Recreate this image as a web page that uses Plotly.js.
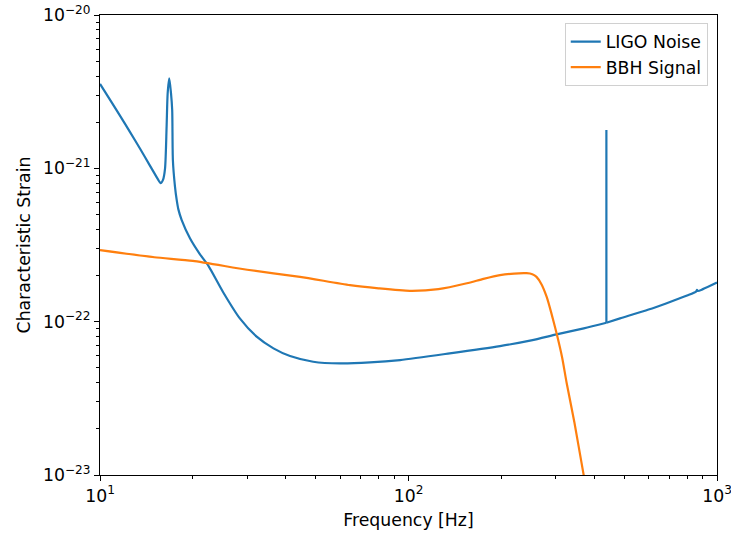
<!DOCTYPE html>
<html>
<head>
<meta charset="utf-8">
<script src="https://cdn.plot.ly/plotly-3.0.1.min.js"></script>
<style>html,body{margin:0;padding:0;background:#fff;}#chart{width:731px;height:533px;}</style>
</head>
<body>
<div id="chart"></div>
<script>
// LIGO noise curve (frequency in Hz, characteristic strain)
const noiseFreq = [10, 11, 12, 13, 14, 15, 15.4, 15.72, 16.0, 16.25, 16.44, 16.57, 16.77, 16.99, 17.14, 17.23, 17.5, 17.73, 17.95, 18.4, 19.57, 21.09, 22.44, 25.1, 28.4, 32.2, 36.5, 41.3, 49.1, 60, 75, 93.9, 136, 198, 250, 302, 370, 438, 438, 438, 485, 600, 687, 800, 855, 861, 867, 900, 1000];
const noiseStrain = [3.55e-21, 2.62e-21, 1.98e-21, 1.52e-21, 1.18e-21, 9.3e-22, 8.5e-22, 8.0e-22, 8.4e-22, 1.0e-21, 1.87e-21, 3.08e-21, 3.86e-21, 3.08e-21, 2.4e-21, 1.13e-21, 7.6e-22, 6.2e-22, 5.4e-22, 4.6e-22, 3.5e-22, 2.75e-22, 2.32e-22, 1.55e-22, 1.05e-22, 7.98e-23, 6.7e-23, 5.97e-23, 5.48e-23, 5.34e-23, 5.42e-23, 5.62e-23, 6.21e-23, 6.93e-23, 7.55e-23, 8.26e-23, 9.05e-23, 9.84e-23, 1.78e-21, 9.84e-23, 1.05e-22, 1.2e-22, 1.32e-22, 1.48e-22, 1.57e-22, 1.61e-22, 1.585e-22, 1.63e-22, 1.8e-22];

// BBH signal curve
const signalFreq = [10, 15, 20, 30, 44.5, 64.6, 80, 101, 125, 154.6, 175, 198, 220, 241.5, 252, 260, 270, 280.5, 290, 302, 315, 325.6, 345, 369, 380];
const signalStrain = [2.93e-22, 2.63e-22, 2.49e-22, 2.18e-22, 1.96e-22, 1.73e-22, 1.65e-22, 1.59e-22, 1.63e-22, 1.78e-22, 1.9e-22, 2.01e-22, 2.06e-22, 2.07e-22, 2.04e-22, 1.96e-22, 1.75e-22, 1.45e-22, 1.15e-22, 8.4e-23, 5.8e-23, 3.98e-23, 2.2e-23, 1.02e-23, 7.5e-24];

// tick labels
const xTickVals = [10, 100, 1000];
const xTickText = ['10<sup>1</sup>', '10<sup>2</sup>', '10<sup>3</sup>'];
const yTickVals = [1e-23, 1e-22, 1e-21, 1e-20];
const yTickText = ['10<sup>\u221223</sup>', '10<sup>\u221222</sup>', '10<sup>\u221221</sup>', '10<sup>\u221220</sup>'];
const xMinor = [20,30,40,50,60,70,80,90,200,300,400,500,600,700,800,900];
const yMinor = [];
for (const e of [-23, -22, -21]) for (let m = 2; m <= 9; m++) yMinor.push(m * Math.pow(10, e));

const font = {family: 'DejaVu Sans, sans-serif', size: 17.3, color: '#000'};

// split the noise series at the narrow line at 438 Hz so the smooth parts can be splined
const spikeStart = noiseFreq.indexOf(438);
const spikeEnd = noiseFreq.lastIndexOf(438);
const blue = {color: '#1f77b4', width: 2.2};
const traces = [
  {x: noiseFreq.slice(0, spikeStart + 1), y: noiseStrain.slice(0, spikeStart + 1), type: 'scatter', mode: 'lines',
   name: 'LIGO Noise', legendgroup: 'n', line: Object.assign({shape: 'spline', smoothing: 0.7}, blue)},
  {x: noiseFreq.slice(spikeStart, spikeEnd + 1), y: noiseStrain.slice(spikeStart, spikeEnd + 1), type: 'scatter', mode: 'lines',
   name: 'LIGO Noise', legendgroup: 'n', showlegend: false, line: blue},
  {x: noiseFreq.slice(spikeEnd), y: noiseStrain.slice(spikeEnd), type: 'scatter', mode: 'lines',
   name: 'LIGO Noise', legendgroup: 'n', showlegend: false, line: Object.assign({shape: 'spline', smoothing: 0.7}, blue)},
  {x: signalFreq, y: signalStrain, type: 'scatter', mode: 'lines', name: 'BBH Signal',
   line: {color: '#ff7f0e', width: 2.2, shape: 'spline', smoothing: 0.6}}
];

const axisCommon = {
  showgrid: false, zeroline: false, showline: true, linecolor: '#000', linewidth: 1,
  mirror: true, ticks: 'outside', ticklen: 5, tickwidth: 1, tickcolor: '#000',
  tickfont: font, ticklabeloverflow: 'allow'
};

const layout = {
  width: 731, height: 533,
  margin: {l: 100, r: 14, t: 15, b: 58},
  paper_bgcolor: '#fff', plot_bgcolor: '#fff',
  font: font,
  showlegend: true,
  legend: {x: 0.985, y: 0.983, xanchor: 'right', yanchor: 'top', bgcolor: 'rgba(255,255,255,0.8)',
           bordercolor: '#d0d0d0', borderwidth: 1, tracegroupgap: 0,
           font: {family: 'DejaVu Sans, sans-serif', size: 17.3, color: '#000'}},
  xaxis: Object.assign({}, axisCommon, {
    type: 'log', range: [1, 3], tickvals: xTickVals, ticktext: xTickText,
    minor: {tickvals: xMinor, ticks: 'outside', ticklen: 3, tickcolor: '#000', tickwidth: 1},
    title: {text: 'Frequency [Hz]', font: font, standoff: 9}
  }),
  yaxis: Object.assign({}, axisCommon, {
    type: 'log', range: [-23, -20], tickvals: yTickVals, ticktext: yTickText,
    minor: {tickvals: yMinor, ticks: 'outside', ticklen: 3, tickcolor: '#000', tickwidth: 1},
    title: {text: 'Characteristic Strain', font: font, standoff: 7}
  })
};

Plotly.newPlot('chart', traces, layout, {displayModeBar: false, staticPlot: true});
</script>
</body>
</html>
